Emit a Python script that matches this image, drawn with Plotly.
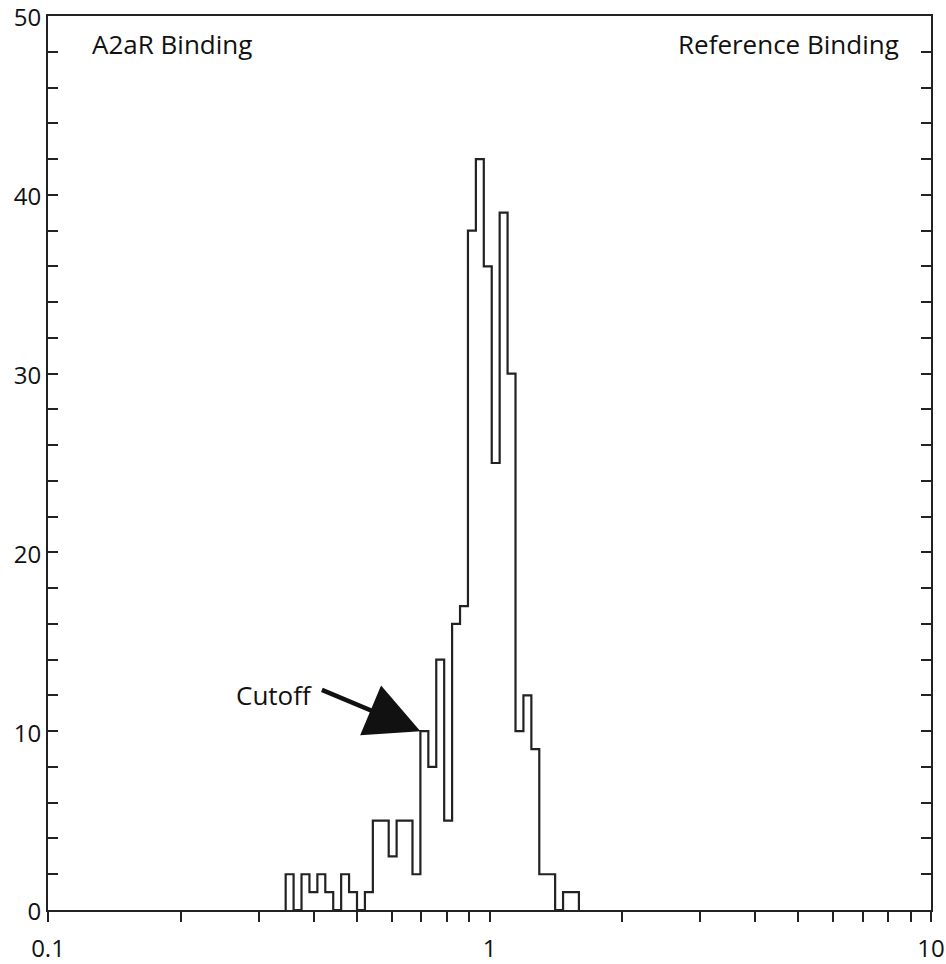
import numpy as np
import plotly.graph_objects as go

# Histogram of binding ratios (A2aR binding / reference binding), log-spaced bins
counts = [2, 0, 2, 1, 2, 1, 0, 2, 1, 0, 1, 5, 5, 3, 5, 5, 2, 10, 8, 14, 5,
          16, 17, 38, 42, 36, 25, 39, 30, 10, 12, 9, 2, 2, 0, 1, 1]
first_edge = 0.3454   # lower edge of the first bin
bin_ratio = 1.0422    # constant ratio between consecutive bin edges
cutoff_bin = 17       # bin whose left edge marks the cutoff

x_tick_vals = [0.1, 1, 10]
x_tick_text = ["0.1", "1", "10"]
x_minor_vals = [0.2, 0.3, 0.4, 0.5, 0.6, 0.7, 0.8, 0.9, 2, 3, 4, 5, 6, 7, 8, 9]
y_max = 50
y_step = 10

edges = first_edge * bin_ratio ** np.arange(len(counts) + 1)

# Outline of the histogram as a step line
step_x = [edges[0]] + list(edges[:-1]) + [edges[-1]]
step_y = [0] + list(counts) + [0]

ink = "#222222"
font_family = "Open Sans, Noto Sans, sans-serif"

fig = go.Figure()
fig.add_trace(go.Scatter(
    x=step_x, y=step_y, mode="lines", line_shape="hv",
    line=dict(color=ink, width=2.2), hoverinfo="skip", showlegend=False,
))

fig.update_xaxes(
    type="log", range=[-1, 1], automargin=False,
    tickvals=x_tick_vals, ticktext=x_tick_text,
    ticks="outside", ticklen=10, tickwidth=2, tickcolor=ink,
    minor=dict(tickvals=x_minor_vals, ticks="outside", ticklen=10,
               tickwidth=2, tickcolor=ink),
    showline=True, linewidth=2, linecolor=ink, mirror=True,
    showgrid=False, zeroline=False,
    ticklabelstandoff=6, ticklabeloverflow="allow",
    tickfont=dict(family=font_family, size=24, color="#111111"),
)
fig.update_yaxes(
    range=[0, y_max], automargin=False,
    tickmode="linear", tick0=0, dtick=y_step,
    ticks="inside", ticklen=10, tickwidth=2, tickcolor=ink,
    minor=dict(dtick=2, ticks="inside", ticklen=10, tickwidth=2, tickcolor=ink),
    showline=True, linewidth=2, linecolor=ink, mirror="ticks",
    showgrid=False, zeroline=False,
    ticklabelstandoff=0, ticklabelshift=2, ticklabeloverflow="allow",
    tickfont=dict(family=font_family, size=24, color="#111111"),
)

label_font = dict(family=font_family, size=26, color="#111111")
fig.add_annotation(text="A2aR Binding", xref="paper", yref="paper",
                   x=0.048, y=0.969, xanchor="left", yanchor="middle",
                   showarrow=False, font=label_font)
fig.add_annotation(text="Reference Binding", xref="paper", yref="paper",
                   x=0.966, y=0.969, xanchor="right", yanchor="middle",
                   showarrow=False, font=label_font)

# Cutoff marker pointing at the top-left corner of the cutoff bin
cut_x = edges[cutoff_bin]
fig.add_annotation(x=np.log10(cut_x), y=counts[cutoff_bin], xref="x", yref="y",
                   text="", showarrow=True, arrowhead=2, arrowsize=2.4,
                   arrowwidth=4.5, arrowcolor="#111111", ax=-100, ay=-42)
fig.add_annotation(x=np.log10(cut_x), y=counts[cutoff_bin], xref="x", yref="y",
                   text="Cutoff", showarrow=False, xanchor="right",
                   yanchor="middle", xshift=-106, yshift=36, font=label_font)

fig.update_layout(
    width=946, height=964,
    margin=dict(l=48, r=15, t=16, b=54),
    plot_bgcolor="white", paper_bgcolor="white",
)

fig.write_html("out.html")
